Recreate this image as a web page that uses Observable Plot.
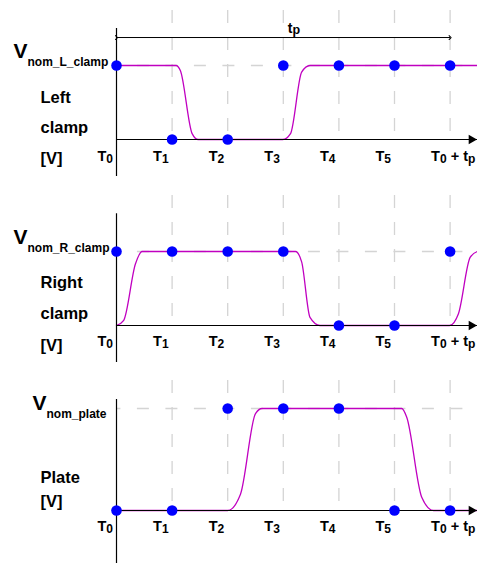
<!DOCTYPE html>
<html><head><meta charset="utf-8">
<script src="https://cdn.jsdelivr.net/npm/d3@7"></script>
<script src="https://cdn.jsdelivr.net/npm/@observablehq/plot@0.6"></script>
<style>html,body{margin:0;padding:0;background:#fff;overflow:hidden;} #chart svg{display:block;}</style>
</head><body><div id="chart"></div>
<script>
// ---- data ----
const tickPos = [0, 1, 2, 3, 4, 5, 6];
const tickLabels = ["T{0}", "T{1}", "T{2}", "T{3}", "T{4}", "T{5}", "T{0} + t{p}"];

// Left clamp
const leftName = "V{nom_L_clamp}";
const leftSide = "Left\nclamp\n[V]";
const leftDots = [1, 0, 0, 1, 1, 1, 1];
const leftWaveT = [0, 1.07, 1.15, 1.36, 1.47, 2.99, 3.13, 3.33, 3.48, 6.49];
const leftWaveV = [1, 1, 0.93, 0.08, 0, 0, 0.08, 0.91, 1, 1];

// Right clamp
const rightName = "V{nom_R_clamp}";
const rightSide = "Right\nclamp\n[V]";
const rightDots = [1, 1, 1, 1, 0, 0, 1];
const rightWaveT = [0, 0.13, 0.34, 0.46, 3.22, 3.33, 3.48, 3.66, 5.99, 6.15, 6.36, 6.49];
const rightWaveV = [0, 0.07, 0.83, 1, 1, 0.86, 0.11, 0, 0, 0.16, 0.92, 1];

// Plate
const plateName = "V{nom_plate}";
const plateSide = "Plate\n[V]";
const plateDots = [0, 0, 1, 1, 1, 0, 0];
const plateWaveT = [0, 2.0, 2.23, 2.5, 2.62, 5.13, 5.22, 5.49, 5.70, 6.49];
const plateWaveV = [0, 0, 0.16, 0.95, 1, 1, 0.915, 0.13, 0, 0];

// period span (tp)
const tpFrom = 0, tpTo = 6, tpLabelAt = 3, tpLabel = "t{p}";

// ---- layout / style ----
const W = 477;
const gridColor = "#d4d4d4";
const waveColor = "#c000c0";
const dotColor = "#0000ff";
const font = "'Liberation Sans', Arial, Helvetica, sans-serif";

const panels = [
  {name: leftName, side: leftSide, dots: leftDots, wT: leftWaveT, wV: leftWaveV,
   height: 185, low: 139, high: 65, axis: [-0.5, 1.5], tickDy: 21,
   vDx: -103, vDy: -8, sideDy: 24, sideLH: 1.84, tp: true, tpLevel: 1.378},
  {name: rightName, side: rightSide, dots: rightDots, wT: rightWaveT, wV: rightWaveV,
   height: 185, low: 140, high: 66, axis: [-0.5, 1.51], tickDy: 20,
   vDx: -103, vDy: -8, sideDy: 25, sideLH: 1.88, tp: false},
  {name: plateName, side: plateSide, dots: plateDots, wT: plateWaveT, wV: plateWaveV,
   height: 193, low: 140, high: 38, axis: [-0.53, 1.088], tickDy: 20,
   vDx: -84, vDy: 1, sideDy: -4, sideLH: 1.41, tp: false}
];

function subscriptText(t, subSize, shift) {
  const s = t.textContent;
  const parts = s.split(/\{([^}]*)\}/);
  t.textContent = "";
  let cur = 0;
  parts.forEach((p, i) => {
    if (!p) return;
    const ts = document.createElementNS("http://www.w3.org/2000/svg", "tspan");
    const want = i % 2 ? shift : 0;
    if (want !== cur) ts.setAttribute("dy", want - cur);
    cur = want;
    if (i % 2) ts.setAttribute("font-size", subSize);
    ts.textContent = p;
    t.appendChild(ts);
  });
}

function applySubscripts(svg, names) {
  svg.querySelectorAll("text").forEach(t => {
    const s = t.textContent;
    if (s.indexOf("{") < 0) return;
    if (tickLabels.includes(s)) subscriptText(t, 12, 2);
    else if (names.includes(s)) subscriptText(t, 12, 8);
    else if (s === tpLabel) subscriptText(t, 12.5, 1);
  });
}

function makePanel(p) {
  const wave = p.wT.map((t, i) => ({t, v: p.wV[i]}));
  const dots = tickPos.map((t, i) => ({t, v: p.dots[i]}));
  const ticks = tickPos.map((t, i) => ({t, label: tickLabels[i]}));
  const marks = [
    Plot.ruleX(tickPos.slice(1), {stroke: gridColor, strokeWidth: 1.3, strokeDasharray: "13,14"}),
    Plot.ruleY([1], {stroke: gridColor, strokeWidth: 1.3, strokeDasharray: "12,16.5", strokeDashoffset: 7.6}),
    Plot.line(wave, {x: "t", y: "v", stroke: waveColor, strokeWidth: 1.3, curve: "monotone-x"}),
    Plot.ruleY([0], {stroke: "black", strokeWidth: 1.2}),
    Plot.ruleX([0], {y1: p.axis[0], y2: p.axis[1], stroke: "black", strokeWidth: 1.2}),
    Plot.dot([0], {y: d => d, frameAnchor: "right", dx: -6, symbol: "triangle", rotate: 90, r: 3.6, fill: "black"}),
    Plot.dot(dots, {x: "t", y: "v", r: 5.3, fill: dotColor}),
    Plot.text(ticks, {x: "t", y: 0, text: "label", textAnchor: "start", lineAnchor: "bottom",
      dx: -19, dy: p.tickDy, fontSize: 14.5, fontWeight: "bold", fill: "black"}),
    Plot.text([p.name], {x: 0, y: 1, text: d => d, textAnchor: "start", lineAnchor: "bottom",
      dx: p.vDx, dy: p.vDy, fontSize: 21, fontWeight: "bold", fill: "black"}),
    Plot.text([p.side], {x: 0, y: 0, text: d => d, textAnchor: "start", lineAnchor: "bottom",
      dx: -76, dy: p.sideDy, lineHeight: p.sideLH, fontSize: 16.5, fontWeight: "bold", fill: "black"})
  ];
  if (p.tp) {
    marks.push(
      Plot.link([{a: tpFrom, b: tpTo}], {x1: "a", x2: "b", y1: p.tpLevel, y2: p.tpLevel,
        stroke: "black", strokeWidth: 1, markerStart: "arrow", markerEnd: "arrow"}),
      Plot.text([tpLabel], {x: tpLabelAt, y: p.tpLevel, text: d => d, textAnchor: "start", lineAnchor: "bottom",
        dx: 4.5, dy: -5, fontSize: 14, fontWeight: "bold", fill: "black"})
    );
  }
  const svg = Plot.plot({
    width: W, height: p.height,
    marginLeft: 116, marginRight: 0, marginTop: 10, marginBottom: p.height - p.low,
    x: {domain: [0, 6], range: [116, 449.6], axis: null},
    y: {domain: [0, 1], range: [p.low, p.high], axis: null},
    style: {fontFamily: font, background: "white", overflow: "visible"},
    marks
  });
  applySubscripts(svg, [leftName, rightName, plateName]);
  return svg;
}

const root = document.getElementById("chart");
panels.forEach(p => root.appendChild(makePanel(p)));
</script>
</body></html>
